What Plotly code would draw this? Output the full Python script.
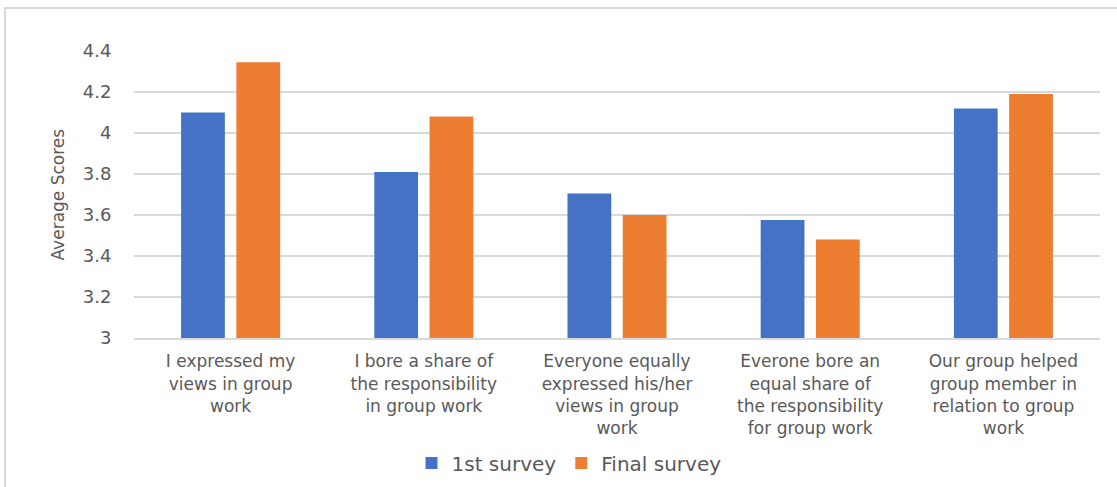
import plotly.graph_objects as go

categories = [
    "I expressed my<br>views in group<br>work",
    "I bore a share of<br>the responsibility<br>in group work",
    "Everyone equally<br>expressed his/her<br>views in group<br>work",
    "Everone bore an<br>equal share of<br>the responsibility<br>for group work",
    "Our group helped<br>group member in<br>relation to group<br>work",
]
first_survey = [4.10, 3.81, 3.705, 3.575, 4.12]
final_survey = [4.345, 4.08, 3.60, 3.48, 4.19]
y_ticks = [3, 3.2, 3.4, 3.6, 3.8, 4, 4.2, 4.4]
y_tick_text = ["3", "3.2", "3.4", "3.6", "3.8", "4", "4.2", "4.4"]

FONT = "DejaVu Sans"
TXT = "#595959"

fig = go.Figure()
fig.add_trace(go.Bar(name="1st survey", x=categories, y=first_survey,
                     marker=dict(color="#4472C4", line=dict(width=0))))
fig.add_trace(go.Bar(name="Final survey", x=categories, y=final_survey,
                     marker=dict(color="#ED7D31", line=dict(width=0))))

fig.update_layout(
    width=1117, height=487,
    margin=dict(l=134, r=17, t=51, b=149, pad=0, autoexpand=False),
    paper_bgcolor="white", plot_bgcolor="white",
    barmode="group", bargap=0.428, bargroupgap=0.208,
    font=dict(family=FONT, size=17, color=TXT),
    showlegend=True,
    legend=dict(orientation="h", xref="container", yref="container",
                x=569 / 1117, xanchor="center", y=1 - 463 / 487, yanchor="middle",
                font=dict(family=FONT, size=20, color=TXT), traceorder="normal",
                itemwidth=30),
    xaxis=dict(showgrid=False, showline=True, linecolor="#d9d9d9", linewidth=2,
               ticks="outside", ticklen=7, tickcolor="rgba(0,0,0,0)",
               tickfont=dict(family=FONT, size=17, color=TXT), tickangle=0),
    yaxis=dict(range=[3, 4.4], tickvals=y_ticks, ticktext=y_tick_text,
               showgrid=True, gridcolor="#d9d9d9", gridwidth=2,
               zeroline=False, showline=False,
               ticks="outside", ticklen=18, tickcolor="rgba(0,0,0,0)",
               tickfont=dict(family=FONT, size=18, color=TXT)),
    annotations=[dict(text="Average Scores", textangle=-90, xref="paper", yref="paper",
                      x=-0.0797, y=0.5, xanchor="center", yanchor="middle", showarrow=False,
                      font=dict(family=FONT, size=17, color=TXT))],
    shapes=[dict(type="rect", xref="paper", yref="paper",
                 x0=(5 - 134) / 966, x1=(1125 - 134) / 966,
                 y0=(338 - 495) / 287, y1=(338 - 8) / 287,
                 line=dict(color="#d9d9d9", width=2), layer="below")],
)

fig.write_html("out.html")
